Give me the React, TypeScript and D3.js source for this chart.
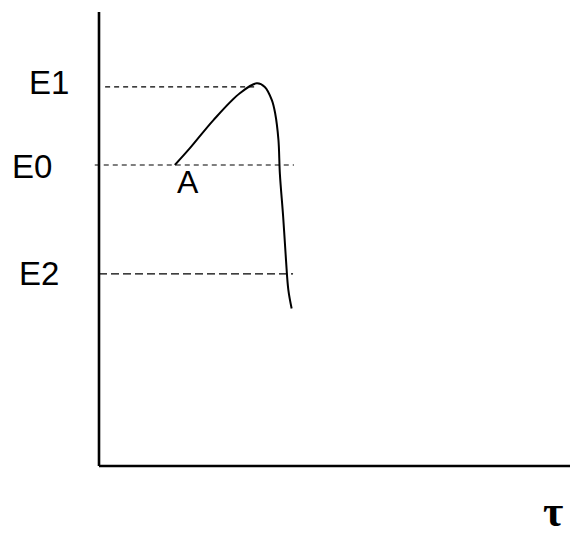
import React from "react";
import * as d3 from "d3";

// Energy levels marked on the vertical axis
const levelNames = ["E1", "E0", "E2"];
const levelValues = [83.5, 66.3, 42.3];
const levelEnds = [33.5, 41.4, 41.2];

// Energy curve E(τ), starting at point A
const curveT = [16.1, 19.3, 24.3, 29.9, 33.5, 35.2, 36.7, 37.4, 38.1, 38.4, 39.1, 39.7, 40.2, 40.9];
const curveE = [66.3, 70.0, 76.2, 82.1, 84.3, 83.5, 80.6, 77.7, 71.8, 64.4, 54.9, 45.4, 38.8, 34.7];

const W = 570;
const H = 538;

export default function App() {
  const x = d3.scaleLinear().domain([0, 100]).range([99, 570]);
  const y = d3.scaleLinear().domain([0, 100]).range([466, 12]);

  const line = d3
    .line<number>()
    .x((_, i) => x(curveT[i]))
    .y((d) => y(d))
    .curve(d3.curveCatmullRom.alpha(0.5));

  const labelX = [29, 12, 19];
  const labelDy = [7, 13, 11];
  const dashes = ["5 4", "5 4", "8 4"];
  const starts = [1.3, -0.9, 0];

  return (
    <svg
      width={W}
      height={H}
      style={{ position: "absolute", left: 0, top: 0, background: "#fff" }}
    >
      {/* axes */}
      <line x1={x(0)} y1={y(100)} x2={x(0)} y2={y(0)} stroke="#000" strokeWidth={2.6} />
      <line x1={x(0)} y1={y(0)} x2={x(100)} y2={y(0)} stroke="#000" strokeWidth={2.6} />

      {/* level guides and labels */}
      {levelValues.map((v, i) => (
        <g key={levelNames[i]}>
          <line
            x1={x(starts[i])}
            x2={x(levelEnds[i])}
            y1={y(v)}
            y2={y(v)}
            stroke="#000"
            strokeWidth={1.2}
            strokeDasharray={dashes[i]}
          />
          <text
            x={labelX[i]}
            y={y(v) + labelDy[i]}
            fontFamily="Liberation Sans"
            fontSize={33}
            fill="#000"
          >
            {levelNames[i]}
          </text>
        </g>
      ))}

      {/* curve */}
      <path d={line(curveE) ?? ""} fill="none" stroke="#000" strokeWidth={2} />

      <text x={177} y={193} fontFamily="Liberation Sans" fontSize={32} fill="#000">
        A
      </text>
      <text x={543} y={526} fontFamily="Liberation Serif" fontSize={44} fontWeight="bold" fill="#000">
        τ
      </text>
    </svg>
  );
}
